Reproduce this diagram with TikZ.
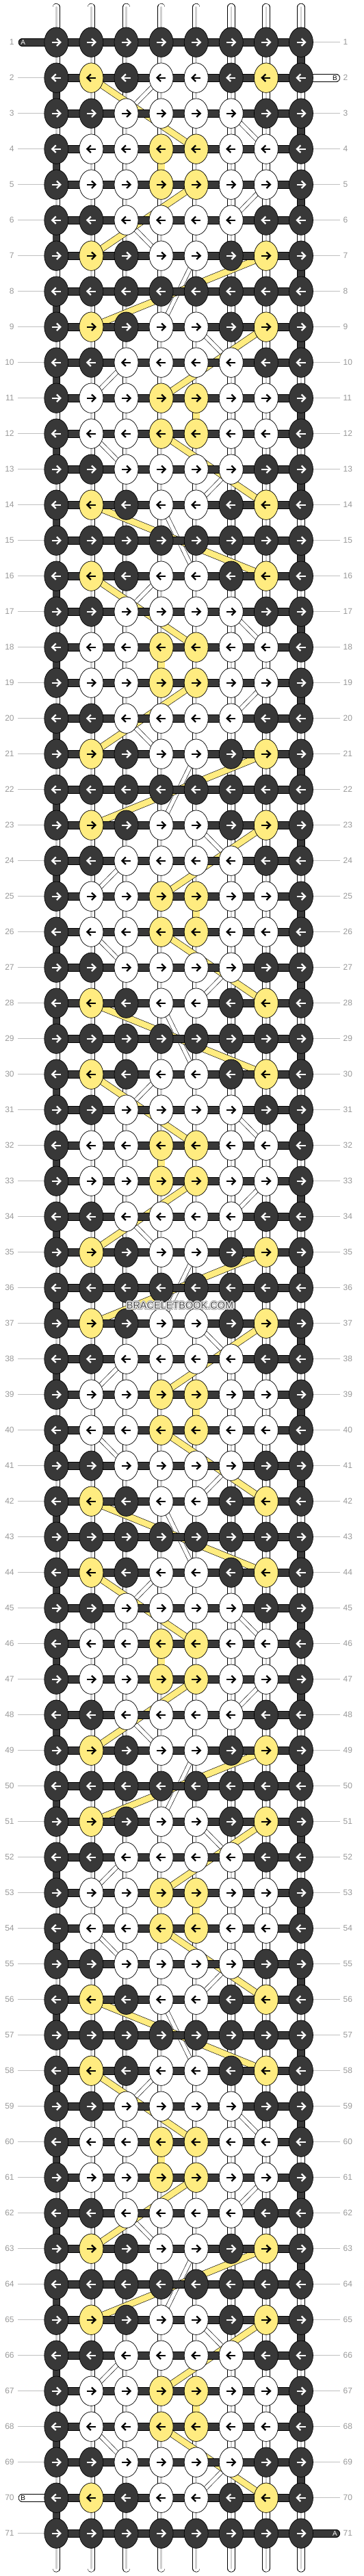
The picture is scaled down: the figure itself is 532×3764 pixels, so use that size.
\documentclass[tikz,border=0pt]{standalone}
\usepackage{fontspec}
\setmainfont{Liberation Sans}
\usetikzlibrary{shapes.geometric}
\pgfdeclarelayer{bg}\pgfdeclarelayer{lA}\pgfdeclarelayer{lB}\pgfdeclarelayer{lC}
\pgfsetlayers{bg,lA,lB,lC,main}
\definecolor{dk}{HTML}{383838}
\definecolor{yl}{HTML}{FFEC80}
\definecolor{lbl}{HTML}{999999}
\definecolor{lnc}{HTML}{C0C0C0}
\definecolor{stc}{HTML}{CFCFCF}
\definecolor{wmc}{HTML}{474747}
\tikzset{
 knot/.style={ellipse, draw=black, line width=0.7pt, minimum width=35pt, minimum height=43.4pt, inner sep=0pt},
 knd/.style={fill=dk}, kny/.style={fill=yl}, knw/.style={fill=white},
 vwhite/.style={draw=black, line width=11.4pt, postaction={draw=white, line width=10pt}, postaction={draw=stc, line width=2.6pt}},
 vdark/.style={draw=black, line width=11.4pt, postaction={draw=dk, line width=10pt}},
 vyel/.style={draw=black, line width=11.4pt, postaction={draw=yl, line width=10pt}},
 hbar/.style={draw=black, line width=11.6pt, postaction={draw=dk, line width=10.2pt}},
 bbar/.style={draw=black, line width=11.6pt, postaction={draw=white, line width=10.2pt}},
 ydiag/.style={draw=black, line width=10pt, postaction={draw=yl, line width=8.8pt}},
 tdiag/.style={draw=black, line width=6.6pt, postaction={draw=white, line width=5.4pt}},
 rowlbl/.style={text=lbl, font=\fontsize{12}{14}\selectfont, inner sep=0pt},
 endlbl/.style={font=\fontsize{10}{12}\selectfont, inner sep=0pt},
 lblline/.style={draw=lnc, line width=0.9pt},
 arw/.style={line width=2.3pt, miter limit=10},
 wm/.style={font=\fontsize{14.5}{16}\selectfont, inner sep=0pt},
}
\begin{document}
\begin{tikzpicture}[x=1pt,y=-1pt]
\begin{pgfonlayer}{bg}
\fill[white] (0,0) rectangle (532,3764);
\end{pgfonlayer}
\useasboundingbox (0,0) rectangle (532,3764);
% knots
\foreach \r in {1,...,71}{
  \pgfmathtruncatemacro\kk{mod(\r-1,7)}
  \pgfmathsetmacro\yy{61.7+52*(\r-1)}
  \pgfmathtruncatemacro\dir{2*mod(\r,2)-1}
  \ifcase\kk\def\pat{d,d,d,d,d,d,d,d}\or\def\pat{d,y,d,w,w,d,y,d}\or\def\pat{d,d,w,w,w,w,d,d}\or\def\pat{d,w,w,y,y,w,w,d}\or\def\pat{d,w,w,y,y,w,w,d}\or\def\pat{d,d,w,w,w,w,d,d}\or\def\pat{d,y,d,w,w,d,y,d}\fi
  \foreach \f [count=\c] in \pat {
    \pgfmathsetmacro\xx{82.3+51.1*(\c-1)}
    \node[knot, kn\f] (k-\r-\c) at (\xx,\yy) {};
    \if\f d\def\ac{white}\else\def\ac{black}\fi
    \draw[arw, draw=\ac] (\xx-6.5*\dir,\yy) -- (\xx+5.8*\dir,\yy);
    \draw[arw, draw=\ac] (\xx+0.6*\dir,\yy-5.3) -- (\xx+6*\dir,\yy) -- (\xx+0.6*\dir,\yy+5.3);
  }
}
% vertical strings
\begin{pgfonlayer}{lA}
\foreach \r in {1,...,70}{
  \pgfmathtruncatemacro\rn{\r+1}
  \pgfmathtruncatemacro\mm{mod(\r-1,14)}
  \pgfmathtruncatemacro\od{mod(\r,2)}
  \foreach \c in {1,...,8}{
    \def\vs{vwhite}
    \ifnum\od=1 \ifnum\c=8 \def\vs{vdark}\fi\else\ifnum\c=1 \def\vs{vdark}\fi\fi
    \ifnum\mm=3 \ifnum\c=4 \def\vs{vyel}\fi\fi
    \ifnum\mm=10 \ifnum\c=5 \def\vs{vyel}\fi\fi
    \draw[\vs] (k-\r-\c.center) -- (k-\rn-\c.center);
  }
}
\foreach \c in {1,...,8}{
  \pgfmathsetmacro\xx{82.3+51.1*(\c-1)}
  \coordinate (top-\c) at (\xx,10.5);
  \coordinate (bot-\c) at (\xx,3752.8);
  \draw[vwhite, line cap=round] (top-\c) -- (k-1-\c.center);
  \draw[vwhite, line cap=round] (k-71-\c.center) -- (bot-\c);
}
\end{pgfonlayer}
% diagonal strings
\begin{pgfonlayer}{lB}
\foreach \off in {0,14,28,42,56}{
  \foreach \ra/\ca/\rb/\cb in {2/4/3/3,3/6/4/7,5/7/6/6,6/3/7/4,7/5/9/4,9/5/10/6,10/3/11/2,12/2/13/3,13/6/14/5,14/4/16/5}{
    \pgfmathtruncatemacro\sa{\ra+\off}\pgfmathtruncatemacro\sb{\rb+\off}
    \ifnum\sb<72 \draw[tdiag] (k-\sa-\ca.center) -- (k-\sb-\cb.center);\fi
  }
  \foreach \ra/\ca/\rb/\cb in {2/2/4/5,5/5/7/2,7/7/9/2,9/7/11/4,12/4/14/7,14/2/16/7}{
    \pgfmathtruncatemacro\sa{\ra+\off}\pgfmathtruncatemacro\sb{\rb+\off}
    \ifnum\sb<72 \draw[ydiag] (k-\sa-\ca.center) -- (k-\sb-\cb.center);\fi
  }
}
\end{pgfonlayer}
% horizontal strings
\begin{pgfonlayer}{lC}
\foreach \r in {1,...,71}{
  \draw[hbar] (k-\r-1.center) -- (k-\r-8.center);
}
\coordinate (aStart) at (32.5,61.7);
\coordinate (aEnd) at (491.3,3701.7);
\coordinate (bEnd) at (491.3,113.7);
\coordinate (bStart) at (32.5,3649.7);
\draw[hbar, line cap=round] (aStart) -- (k-1-1.center);
\draw[hbar, line cap=round] (k-71-8.center) -- (aEnd);
\draw[bbar, line cap=round] (k-2-8.center) -- (bEnd);
\draw[bbar, line cap=round] (bStart) -- (k-70-1.center);
\end{pgfonlayer}
\node[endlbl, text=white] (labA1) at (33.7,61.7) {A};
\node[endlbl, text=white] (labA2) at (489.5,3701.7) {A};
\node[endlbl, text=black] (labB1) at (489.5,113.7) {B};
\node[endlbl, text=black] (labB2) at (33.7,3649.7) {B};
% row numbers
\foreach \r in {1,...,71}{
  \pgfmathsetmacro\yy{61.7+52*(\r-1)}
  \coordinate (ll-\r) at (26,\yy);
  \coordinate (rl-\r) at (497,\yy);
  \node[rowlbl, anchor=east] (nl-\r) at (20.8,\yy) {\r};
  \node[rowlbl, anchor=west] (nr-\r) at (501.5,\yy) {\r};
  \ifnum\r=1 \else\ifnum\r=70 \else \draw[lblline] (ll-\r) -- (k-\r-1.west);\fi\fi
  \ifnum\r=2 \else\ifnum\r=71 \else \draw[lblline] (k-\r-8.east) -- (rl-\r);\fi\fi
}
% watermark
\foreach \dx/\dy [count=\i] in {1.8/0,-1.8/0,0/1.8,0/-1.8,1.3/1.3,-1.3/1.3,1.3/-1.3,-1.3/-1.3}{
  \node[wm, text=black!35] (wmg\i) at (263+\dx,1907.7+\dy) {BRACELETBOOK.COM};
}
\foreach \dx/\dy [count=\i] in {1/0,-1/0,0/1,0/-1,0.7/0.7,-0.7/0.7,0.7/-0.7,-0.7/-0.7}{
  \node[wm, text=white] (wmh\i) at (263+\dx,1907.7+\dy) {BRACELETBOOK.COM};
}
\node[wm, text=wmc] (wm) at (263,1907.7) {BRACELETBOOK.COM};
\end{tikzpicture}
\end{document}
